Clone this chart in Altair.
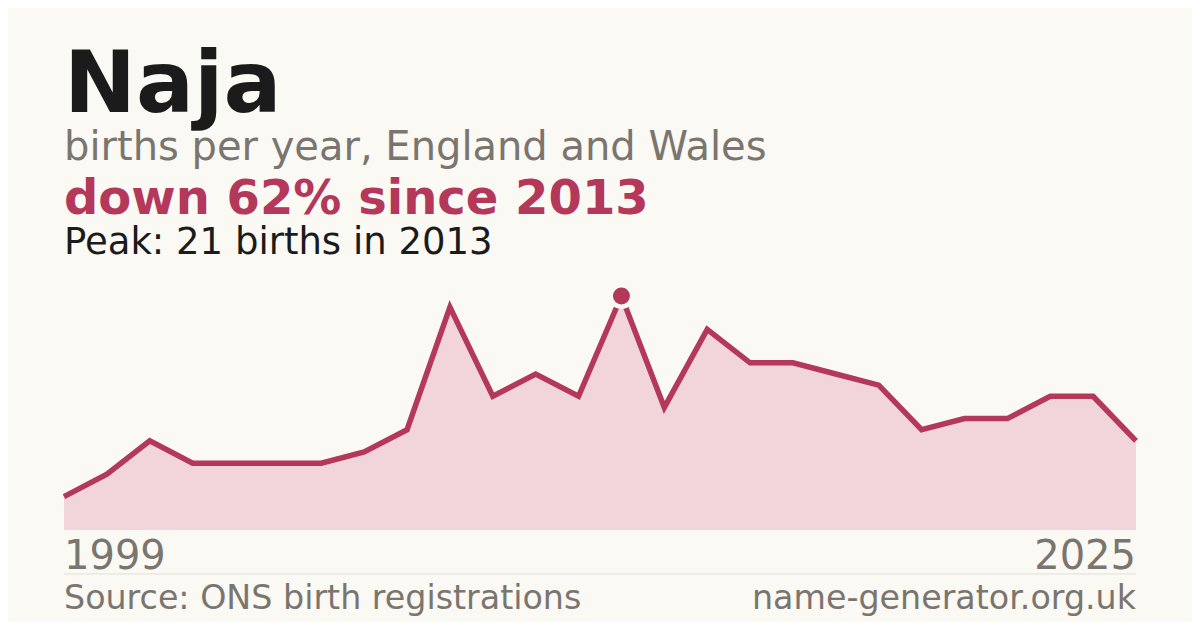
import altair as alt
import pandas as pd

# ---- data ----
years = [1999, 2001, 2002, 2003, 2004, 2005, 2006, 2007, 2008, 2009, 2010, 2011, 2012,
         2013, 2014, 2015, 2016, 2017, 2018, 2019, 2020, 2021, 2022, 2023, 2024, 2025]
births = [3, 5, 8, 6, 6, 6, 6, 7, 9, 20, 12, 14, 12,
          21, 11, 18, 15, 15, 14, 13, 9, 10, 10, 12, 12, 8]

name = "Naja"
subtitle = "births per year, England and Wales"
headline = "down 62% since 2013"
peak_text = "Peak: 21 births in 2013"
first_label = "1999"
last_label = "2025"
source = "Source: ONS birth registrations"
site = "name-generator.org.uk"
peak_year = 2013
peak_value = 21

BG = "#faf9f4"
RED = "#b3385a"
PINK = "#f1d5db"
GRAY = "#7a756e"
DARK = "#1b1b1b"
FONT = "DejaVu Sans"

df = pd.DataFrame({"year": years, "births": births})
df["i"] = range(len(df))
peak_df = df[df["year"] == peak_year]

W, H = 1184, 614
x_scale = alt.Scale(domain=[0, len(years) - 1], range=[56, 1128], nice=False, zero=False)
y_scale = alt.Scale(domain=[0, peak_value], range=[522, 288], nice=False)

base = alt.Chart(df)
x_enc = alt.X("i:Q", scale=x_scale, axis=None)
y_enc = alt.Y("births:Q", scale=y_scale, axis=None)

area = base.mark_area(color=PINK, opacity=1).encode(x=x_enc, y=y_enc)
line = base.mark_line(color=RED, strokeWidth=5.5).encode(x=x_enc, y=y_enc)
dot = alt.Chart(peak_df).mark_point(
    filled=True, shape="circle", size=460, fill=RED, fillOpacity=1,
    stroke=BG, strokeWidth=4.5, strokeOpacity=1
).encode(x=x_enc, y=y_enc)


def txt(s, x, y, size, color, weight="normal", align="left"):
    return alt.Chart(pd.DataFrame({"t": [s]})).mark_text(
        font=FONT, fontSize=size, fontWeight=weight, color=color,
        align=align, baseline="alphabetic"
    ).encode(x=alt.value(x), y=alt.value(y), text="t:N")


rule = alt.Chart(pd.DataFrame({"a": [0]})).mark_rule(color="#e2dfd8", strokeWidth=1).encode(
    x=alt.value(56), x2=alt.value(1128), y=alt.value(566)
)

layers = [
    area, line, dot,
    txt(name, 56, 104, 86, DARK, "bold"),
    txt(subtitle, 56, 152, 40, GRAY),
    txt(headline, 56, 206, 48, RED, "bold"),
    txt(peak_text, 56, 246, 37, DARK),
    txt(first_label, 56, 561, 40, GRAY),
    txt(last_label, 1128, 561, 40, GRAY, align="right"),
    rule,
    txt(source, 56, 601, 33.3, GRAY),
    txt(site, 1128, 601, 33.3, GRAY, align="right"),
]

chart = alt.layer(*layers).properties(
    width=W, height=H,
    autosize=alt.AutoSizeParams(type="none"),
    padding=0,
    background=BG,
).configure_view(stroke=None)

chart.save("out.html", embed_options={"renderer": "svg", "actions": False})
